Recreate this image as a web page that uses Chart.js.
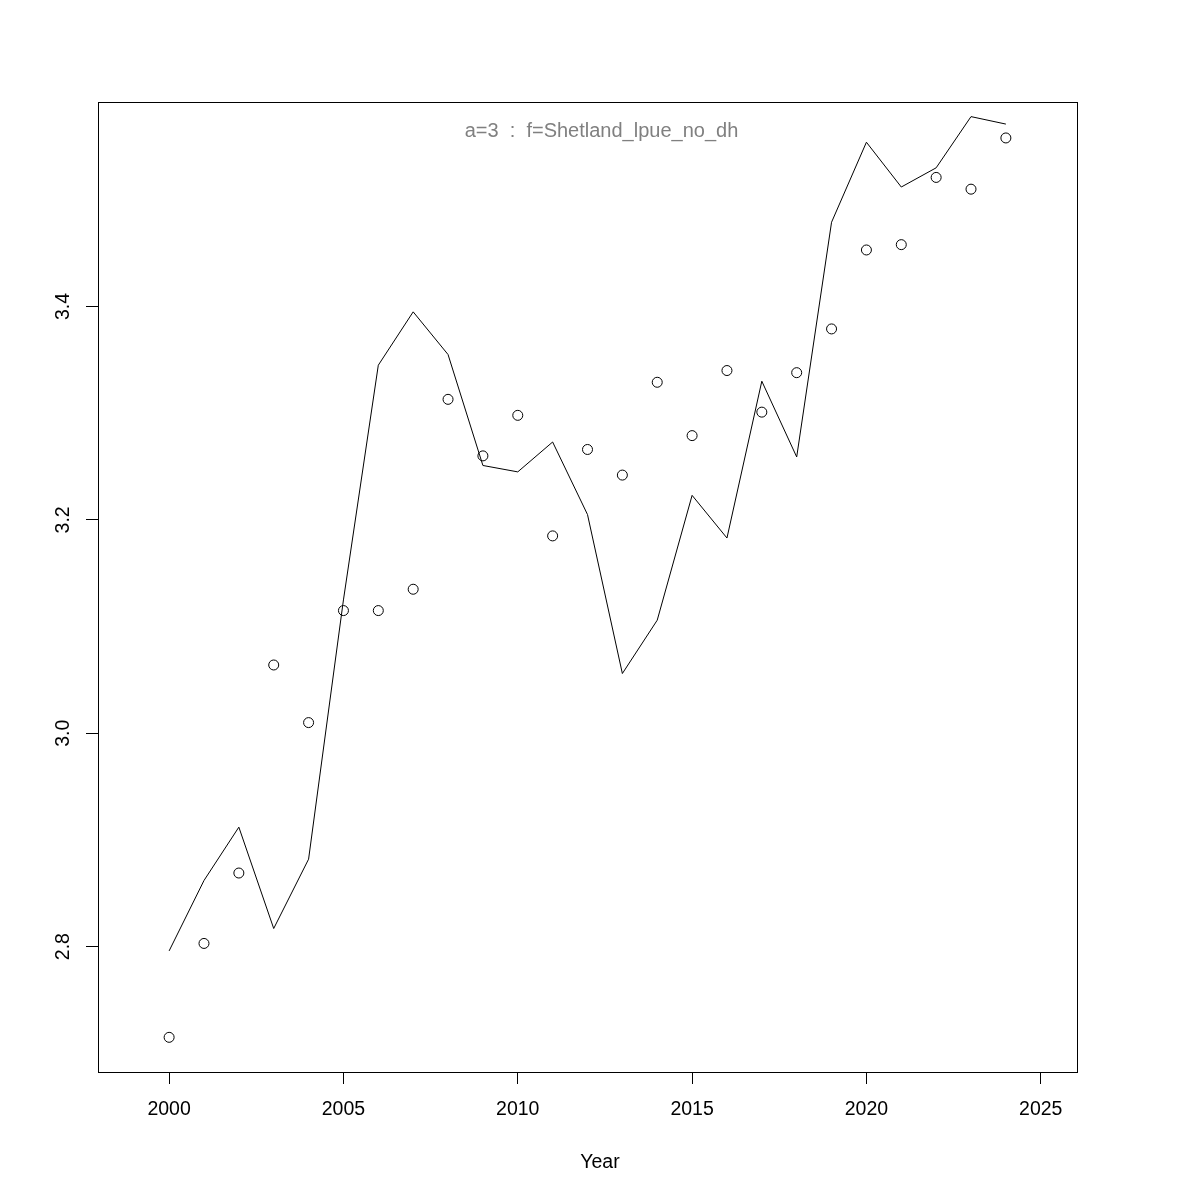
<!DOCTYPE html>
<html>
<head>
<meta charset="utf-8">
<title>a=3 : f=Shetland_lpue_no_dh</title>
<script src="https://cdn.jsdelivr.net/npm/chart.js@4.4.1/dist/chart.umd.min.js"></script>
<style>
  html, body { margin: 0; padding: 0; background: #fff; }
  #wrap { width: 1200px; height: 1200px; }
</style>
</head>
<body>
<div id="wrap"><canvas id="chart" width="1200" height="1200"></canvas></div>
<script>
// years on the x axis
const years = [2000, 2001, 2002, 2003, 2004, 2005, 2006, 2007, 2008, 2009, 2010, 2011, 2012,
  2013, 2014, 2015, 2016, 2017, 2018, 2019, 2020, 2021, 2022, 2023, 2024];

// observed values (open circles)
const observed = [2.715, 2.803, 2.869, 3.064, 3.010, 3.115, 3.115, 3.135, 3.313, 3.260, 3.298, 3.185, 3.266,
  3.242, 3.329, 3.279, 3.340, 3.301, 3.338, 3.379, 3.453, 3.458, 3.521, 3.510, 3.558];

// fitted values (line)
const fitted = [2.796, 2.862, 2.912, 2.817, 2.882, 3.125, 3.345, 3.395, 3.355, 3.251, 3.245, 3.273, 3.205,
  3.056, 3.106, 3.223, 3.183, 3.330, 3.259, 3.479, 3.554, 3.512, 3.530, 3.578, 3.571];

const xTicks = [2000, 2005, 2010, 2015, 2020, 2025];
const yTicks = [2.8, 3.0, 3.2, 3.4];
const yTickLabels = ['2.8', '3.0', '3.2', '3.4'];

const noteText = 'a=3  :  f=Shetland_lpue_no_dh';
const xTitle = 'Year';
const FONT = '"Liberation Sans", Arial, Helvetica, sans-serif';

// box around the plot, the grey note, x title and the rotated y labels (R style)
const rStyle = {
  id: 'rStyle',
  afterDraw(chart) {
    const ctx = chart.ctx;
    const a = chart.chartArea;
    ctx.save();
    ctx.strokeStyle = '#000';
    ctx.lineWidth = 1;
    ctx.strokeRect(Math.round(a.left) + 0.5, Math.round(a.top) + 0.5,
      Math.round(a.right - a.left), Math.round(a.bottom - a.top));

    ctx.textAlign = 'center';
    ctx.textBaseline = 'alphabetic';
    ctx.fillStyle = '#808080';
    ctx.font = '20px ' + FONT;
    ctx.fillText(noteText, 601.5, a.top + 34.5);

    ctx.fillStyle = '#000';
    ctx.font = '19.5px ' + FONT;
    ctx.fillText(xTitle, 600, 1168);

    const ys = chart.scales.y;
    yTicks.forEach((v, i) => {
      const py = ys.getPixelForValue(v);
      ctx.save();
      ctx.translate(69, py);
      ctx.rotate(-Math.PI / 2);
      ctx.fillText(yTickLabels[i], 0, 0);
      ctx.restore();
    });
    ctx.restore();
  }
};

new Chart(document.getElementById('chart'), {
  type: 'scatter',
  data: {
    datasets: [
      {
        type: 'line',
        label: 'fitted',
        data: years.map((y, i) => ({ x: y, y: fitted[i] })),
        borderColor: '#000',
        borderWidth: 1,
        pointRadius: 0,
        fill: false,
        tension: 0
      },
      {
        label: 'observed',
        data: years.map((y, i) => ({ x: y, y: observed[i] })),
        borderColor: '#000',
        backgroundColor: 'rgba(0,0,0,0)',
        pointRadius: 5,
        pointBorderWidth: 1,
        pointHoverRadius: 5
      }
    ]
  },
  options: {
    responsive: false,
    animation: false,
    events: [],
    layout: { padding: { top: 102, right: 123, bottom: 0, left: 0 } },
    plugins: {
      legend: { display: false },
      tooltip: { enabled: false }
    },
    scales: {
      x: {
        type: 'linear',
        min: 1997.96,
        max: 2026.04,
        afterBuildTicks: s => { s.ticks = xTicks.map(v => ({ value: v })); },
        afterFit: s => { s.height = 128; },
        border: { display: false },
        grid: { drawOnChartArea: false, drawTicks: true, tickLength: 12, color: '#000' },
        ticks: {
          color: '#000',
          padding: 14,
          maxRotation: 0,
          font: { family: FONT, size: 19.5 },
          callback: v => String(v)
        }
      },
      y: {
        min: 2.6825,
        max: 3.5917,
        afterBuildTicks: s => { s.ticks = yTicks.map(v => ({ value: v })); },
        afterFit: s => { s.width = 98; },
        border: { display: false },
        grid: { drawOnChartArea: false, drawTicks: true, tickLength: 12, color: '#000' },
        ticks: { display: false }
      }
    }
  },
  plugins: [rStyle]
});
</script>
</body>
</html>
